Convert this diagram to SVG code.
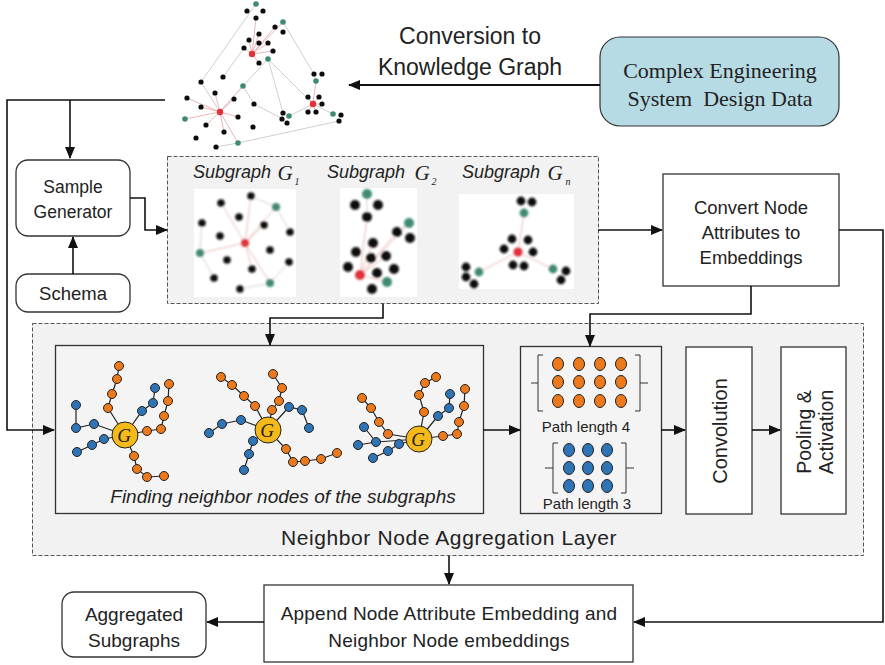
<svg xmlns="http://www.w3.org/2000/svg" width="885" height="665" viewBox="0 0 885 665">
  <style>
    .t { font-family: "Liberation Sans", Arial, sans-serif; fill: #222; text-anchor: middle; }
    .serif { font-family: "Liberation Serif", "Times New Roman", serif; fill: #222; text-anchor: middle; }
    .it { font-style: italic; }
    .box { fill: #fff; stroke: #333; stroke-width: 1.3; }
    .dash { fill: #f2f2f2; stroke: #555; stroke-width: 1; stroke-dasharray: 4 2; }
    .conn { fill: none; stroke: #111; stroke-width: 1.6; }
    .kge { stroke: #cfcfcf; stroke-width: 1; fill: none; }
    .kgp { stroke: #e9b8b8; stroke-width: 1; fill: none; }
    .blk { fill: #111; }
    .tea { fill: #3f8a74; }
    .red { fill: #e0303a; }
    .ne { stroke: #222; stroke-width: 1.2; fill: none; }
    .o { fill: #ec7a1c; stroke: #222; stroke-width: 1; }
    .b { fill: #2f74b5; stroke: #222; stroke-width: 1; }
    .g { fill: #f6b91a; stroke: #222; stroke-width: 1; }
  </style>
  <defs>
    <marker id="arr" markerUnits="userSpaceOnUse" markerWidth="12" markerHeight="10" refX="11" refY="5" orient="auto">
      <path d="M0,0 L12,5 L0,10 Z" fill="#111"/>
    </marker>
    <filter id="soft" x="-10%" y="-10%" width="120%" height="120%">
      <feGaussianBlur stdDeviation="0.9"/>
    </filter>
    <filter id="soft2" x="-10%" y="-10%" width="120%" height="120%">
      <feGaussianBlur stdDeviation="0.5"/>
    </filter>
  </defs>

  <rect width="885" height="665" fill="#fff"/>

  <!-- knowledge graph -->
  <g id="knowledge-graph" filter="url(#soft2)">
    <g class="kge">
      <path d="M256,4 L201,82 L220,112"/>
      <path d="M283,22 L314,74 L316,81"/>
      <path d="M244,48 L223,77"/>
      <path d="M268,59 L243,86 L254,104 L283,119"/>
      <path d="M268,59 L283,113"/>
      <path d="M268,59 L313,104"/>
      <path d="M339,121 L238,143 L216,147"/>
      <path d="M243,86 L220,112"/>
      <path d="M313,104 L289,116"/>
      <path d="M313,104 L333,114"/>
    </g>
    <g class="kgp">
      <path d="M252,54 L256,18 M252,54 L283,22 M252,54 L259,34 M252,54 L249,40 M252,54 L268,43 M252,54 L273,51 M252,54 L259,63 M252,54 L244,48 M252,54 L275,27"/>
      <path d="M220,112 L185,119 M220,112 L238,143 M220,112 L187,98 M220,112 L201,107 M220,112 L243,86 M220,112 L215,93 M220,112 L234,99 M220,112 L206,125 M220,112 L224,132 M220,112 L238,117"/>
      <path d="M313,104 L308,97 M313,104 L319,97 M313,104 L308,112 M313,104 L316,112 M313,104 L322,104 M313,104 L316,81"/>
    </g>
    <g class="tea">
      <circle cx="256" cy="4" r="2.8"/><circle cx="283" cy="22" r="2.8"/><circle cx="268" cy="59" r="2.8"/>
      <circle cx="243" cy="86" r="2.8"/><circle cx="316" cy="81" r="2.8"/><circle cx="289" cy="116" r="2.8"/>
      <circle cx="333" cy="114" r="2.8"/><circle cx="185" cy="119" r="2.8"/><circle cx="238" cy="143" r="2.8"/>
    </g>
    <g class="red">
      <circle cx="252" cy="54" r="3.2"/><circle cx="220" cy="112" r="3.2"/><circle cx="313" cy="104" r="3.2"/>
    </g>
    <g class="blk">
      <circle cx="247" cy="11" r="2.6"/><circle cx="263" cy="11" r="2.6"/><circle cx="256" cy="18" r="2.6"/>
      <circle cx="275" cy="27" r="2.6"/><circle cx="283" cy="32" r="2.6"/><circle cx="259" cy="34" r="2.6"/>
      <circle cx="249" cy="40" r="2.6"/><circle cx="259" cy="43" r="2.6"/><circle cx="268" cy="43" r="2.6"/>
      <circle cx="244" cy="48" r="2.6"/><circle cx="273" cy="51" r="2.6"/><circle cx="259" cy="63" r="2.6"/>
      <circle cx="223" cy="77" r="2.6"/><circle cx="201" cy="82" r="2.6"/><circle cx="314" cy="74" r="2.6"/>
      <circle cx="322" cy="74" r="2.6"/><circle cx="215" cy="93" r="2.6"/><circle cx="234" cy="99" r="2.6"/>
      <circle cx="187" cy="98" r="2.6"/><circle cx="201" cy="107" r="2.6"/><circle cx="254" cy="104" r="2.6"/>
      <circle cx="308" cy="97" r="2.6"/><circle cx="319" cy="97" r="2.6"/><circle cx="308" cy="112" r="2.6"/>
      <circle cx="316" cy="112" r="2.6"/><circle cx="322" cy="104" r="2.6"/><circle cx="283" cy="113" r="2.6"/>
      <circle cx="282" cy="119" r="2.6"/><circle cx="287" cy="123" r="2.6"/><circle cx="238" cy="117" r="2.6"/>
      <circle cx="206" cy="125" r="2.6"/><circle cx="224" cy="132" r="2.6"/><circle cx="253" cy="127" r="2.6"/>
      <circle cx="196" cy="138" r="2.6"/><circle cx="216" cy="147" r="2.6"/><circle cx="341" cy="115" r="2.6"/>
      <circle cx="339" cy="121" r="2.6"/>
    </g>
  </g>

  <text class="t" x="470" y="44" font-size="23">Conversion to</text>
  <text class="t" x="470" y="75" font-size="23">Knowledge Graph</text>

  <!-- source data -->
  <g id="design-data">
    <rect x="600" y="37" width="239" height="89" rx="20" fill="#b7dbe5" stroke="#333" stroke-width="1.2"/>
    <text class="serif" x="720" y="78" font-size="22">Complex Engineering</text>
    <text class="serif" x="720" y="106" font-size="22" style="white-space:pre">System  Design Data</text>
  </g>

  <!-- sample generation -->
  <g id="sample-generator">
    <rect class="box" x="16" y="160" width="114" height="76" rx="12"/>
    <text class="t" x="73" y="193" font-size="17.5">Sample</text>
    <text class="t" x="73" y="218" font-size="17.5">Generator</text>
  </g>
  <g id="schema">
    <rect class="box" x="16" y="274" width="114" height="38" rx="12"/>
    <text class="t" x="73" y="300" font-size="18.5">Schema</text>
  </g>

  <!-- subgraphs panel -->
  <g id="subgraphs">
    <rect class="dash" x="167.5" y="156.5" width="431" height="147"/>
    <text class="t it" x="232" y="178" font-size="18">Subgraph</text>
    <text class="serif it" x="285" y="180" font-size="21">G</text>
    <text class="serif it" x="297" y="185" font-size="10">1</text>
    <text class="t it" x="366" y="178" font-size="18">Subgraph</text>
    <text class="serif it" x="422" y="180" font-size="21">G</text>
    <text class="serif it" x="434" y="185" font-size="10">2</text>
    <text class="t it" x="501" y="178" font-size="18">Subgraph</text>
    <text class="serif it" x="555" y="180" font-size="21">G</text>
    <text class="serif it" x="568" y="185" font-size="10">n</text>

    <rect x="194" y="189" width="102" height="108" fill="#fff"/>
    <rect x="340" y="188" width="77" height="109" fill="#fff"/>
    <rect x="459" y="194" width="115" height="95" fill="#fff"/>

    <g id="subgraph-1" filter="url(#soft)">
      <g class="kgp" stroke-width="1.2">
        <path d="M245,243 L221,203 M245,243 L251,196 M245,243 L276,207 M245,243 L200,253 M245,243 L270,283 M245,243 L252,269 M245,243 L264,225"/>
      </g>
      <g class="kge" stroke-width="1.2">
        <path d="M251,196 L276,207 L290,232 M200,253 L202,223 M200,253 L214,278 M270,283 L240,289 M289,262 L270,283"/>
      </g>
      <circle class="red" cx="245" cy="243" r="4"/>
      <g class="tea"><circle cx="276" cy="207" r="4"/><circle cx="200" cy="253" r="4"/><circle cx="270" cy="283" r="4"/></g>
      <g class="blk">
        <circle cx="221" cy="203" r="3.8"/><circle cx="251" cy="196" r="3.8"/><circle cx="239" cy="217" r="3.8"/>
        <circle cx="202" cy="223" r="3.8"/><circle cx="220" cy="236" r="3.8"/><circle cx="264" cy="225" r="3.8"/>
        <circle cx="290" cy="232" r="3.8"/><circle cx="270" cy="250" r="3.8"/><circle cx="227" cy="260" r="3.8"/>
        <circle cx="252" cy="269" r="3.8"/><circle cx="289" cy="262" r="3.8"/><circle cx="214" cy="278" r="3.8"/>
        <circle cx="240" cy="289" r="3.8"/>
      </g>
    </g>

    <g id="subgraph-2" filter="url(#soft)">
      <g class="kgp" stroke-width="1.3">
        <path d="M360,275 L367,217 M360,275 L397,232 M360,275 L409,223 M360,275 L373,243 M360,275 L386,256 M360,275 L387,282"/>
      </g>
      <g class="kge" stroke-width="1.2"><path d="M367,194 L367,217 M409,223 L397,232"/></g>
      <g class="tea"><circle cx="367" cy="194" r="5"/><circle cx="409" cy="223" r="5"/><circle cx="387" cy="282" r="5"/></g>
      <circle class="red" cx="360" cy="275" r="5"/>
      <g class="blk">
        <circle cx="355" cy="205" r="5"/><circle cx="378" cy="205" r="5"/><circle cx="367" cy="217" r="5"/>
        <circle cx="373" cy="243" r="5"/><circle cx="356" cy="252" r="5"/><circle cx="371" cy="258" r="5"/>
        <circle cx="386" cy="256" r="5"/><circle cx="348" cy="267" r="5"/><circle cx="377" cy="273" r="5"/>
        <circle cx="394" cy="269" r="5"/><circle cx="372" cy="289" r="5"/><circle cx="397" cy="232" r="5"/>
        <circle cx="410" cy="238" r="5"/>
      </g>
    </g>

    <g id="subgraph-n" filter="url(#soft)">
      <g class="kgp" stroke-width="1.3"><path d="M518,252 L524,213 M518,252 L479,272 M518,252 L553,269"/></g>
      <circle class="red" cx="518" cy="252" r="4.6"/>
      <g class="tea"><circle cx="524" cy="213" r="4.4"/><circle cx="479" cy="272" r="4.4"/><circle cx="553" cy="269" r="4.4"/></g>
      <g class="blk">
        <circle cx="521" cy="201" r="4.4"/><circle cx="532" cy="202" r="4.4"/><circle cx="512" cy="239" r="4.4"/>
        <circle cx="528" cy="240" r="4.4"/><circle cx="504" cy="249" r="4.4"/><circle cx="533" cy="252" r="4.4"/>
        <circle cx="513" cy="265" r="4.4"/><circle cx="524" cy="266" r="4.4"/><circle cx="466" cy="267" r="4.4"/>
        <circle cx="466" cy="277" r="4.4"/><circle cx="474" cy="284" r="4.4"/><circle cx="566" cy="271" r="4.4"/>
        <circle cx="561" cy="280" r="4.4"/>
      </g>
    </g>
  </g>

  <!-- embedding conversion -->
  <g id="convert-embeddings">
    <rect class="box" x="663" y="174" width="176" height="112"/>
    <text class="t" x="751" y="214" font-size="18.5">Convert Node</text>
    <text class="t" x="751" y="239" font-size="18.5">Attributes to</text>
    <text class="t" x="751" y="264" font-size="18.5">Embeddings</text>
  </g>

  <!-- aggregation layer -->
  <g id="aggregation-layer">
    <rect class="dash" x="32.5" y="323.5" width="831" height="232"/>
    <text class="t" x="449" y="545" font-size="21" letter-spacing="0.6">Neighbor Node Aggregation Layer</text>
  </g>

  <g id="neighbor-finding">
    <rect x="55.5" y="345.5" width="428" height="168" fill="#f4f4f4" stroke="#333" stroke-width="1.3"/>
    <text class="t it" x="283" y="503" font-size="19">Finding neighbor nodes of the subgraphs</text>

    <!-- first neighborhood -->
    <g class="ne">
      <path d="M125,435 L108,408 L112,394 L117,379 L119,366"/>
      <path d="M125,435 L142,411 L153,403 L155,388"/>
      <path d="M125,435 L147,431 L161,429 L164,416 L168,401 L169,384"/>
      <path d="M125,435 L94,424 L76,428 L76,405"/>
      <path d="M125,435 L104,439 L92,445 L77,452"/>
      <path d="M125,435 L134,456 L137,469 L147,477 L164,476"/>
    </g>
    <g>
      <circle class="o" cx="108" cy="408" r="4.5"/><circle class="o" cx="112" cy="394" r="4.5"/><circle class="o" cx="117" cy="379" r="4.5"/><circle class="o" cx="119" cy="366" r="4.5"/>
      <circle class="b" cx="142" cy="411" r="4.5"/><circle class="b" cx="153" cy="403" r="4.5"/><circle class="b" cx="155" cy="388" r="4.5"/>
      <circle class="o" cx="147" cy="431" r="4.5"/><circle class="o" cx="161" cy="429" r="4.5"/><circle class="o" cx="164" cy="416" r="4.5"/><circle class="o" cx="168" cy="401" r="4.5"/><circle class="o" cx="169" cy="384" r="4.5"/>
      <circle class="b" cx="94" cy="424" r="4.5"/><circle class="b" cx="76" cy="428" r="4.5"/><circle class="b" cx="76" cy="405" r="4.5"/>
      <circle class="b" cx="104" cy="439" r="4.5"/><circle class="b" cx="92" cy="445" r="4.5"/><circle class="b" cx="77" cy="452" r="4.5"/>
      <circle class="o" cx="134" cy="456" r="4.5"/><circle class="o" cx="137" cy="469" r="4.5"/><circle class="o" cx="147" cy="477" r="4.5"/><circle class="o" cx="164" cy="476" r="4.5"/>
      <circle class="g" cx="125" cy="435" r="13"/>
      <text class="serif it" x="124" y="442" font-size="19">G</text>
    </g>

    <!-- second neighborhood -->
    <g class="ne">
      <path d="M268,430 L272,410 L279,401 L282,388 L273,374"/>
      <path d="M268,430 L255,406 L244,396 L232,385 L221,377"/>
      <path d="M268,430 L241,420 L222,424 L209,433"/>
      <path d="M268,430 L253,441 L249,454 L244,470"/>
      <path d="M268,430 L289,407 L302,410 L309,428"/>
      <path d="M268,430 L286,449 L293,462 L305,461 L321,459 L337,453"/>
    </g>
    <g>
      <circle class="o" cx="272" cy="410" r="4.5"/><circle class="o" cx="279" cy="401" r="4.5"/><circle class="o" cx="282" cy="388" r="4.5"/><circle class="o" cx="273" cy="374" r="4.5"/>
      <circle class="o" cx="255" cy="406" r="4.5"/><circle class="o" cx="244" cy="396" r="4.5"/><circle class="o" cx="232" cy="385" r="4.5"/><circle class="o" cx="221" cy="377" r="4.5"/>
      <circle class="b" cx="241" cy="420" r="4.5"/><circle class="b" cx="222" cy="424" r="4.5"/><circle class="b" cx="209" cy="433" r="4.5"/>
      <circle class="b" cx="253" cy="441" r="4.5"/><circle class="b" cx="249" cy="454" r="4.5"/><circle class="b" cx="244" cy="470" r="4.5"/>
      <circle class="b" cx="289" cy="407" r="4.5"/><circle class="b" cx="302" cy="410" r="4.5"/><circle class="b" cx="309" cy="428" r="4.5"/>
      <circle class="o" cx="286" cy="449" r="4.5"/><circle class="o" cx="293" cy="462" r="4.5"/><circle class="o" cx="305" cy="461" r="4.5"/><circle class="o" cx="321" cy="459" r="4.5"/><circle class="o" cx="337" cy="453" r="4.5"/>
      <circle class="g" cx="268" cy="430" r="13"/>
      <text class="serif it" x="267" y="437" font-size="19">G</text>
    </g>

    <!-- third neighborhood -->
    <g class="ne">
      <path d="M419,439 L424,412 L419,395 L425,383 L436,377"/>
      <path d="M419,439 L438,416 L449,408 L450,394"/>
      <path d="M419,439 L443,436 L457,434 L459,422 L464,406 L465,389"/>
      <path d="M419,439 L388,434 L379,422 L371,408 L362,398"/>
      <path d="M419,439 L376,442 L364,427 M376,442 L358,445"/>
      <path d="M419,439 L399,444 L388,451 L373,458"/>
    </g>
    <g>
      <circle class="o" cx="424" cy="412" r="4.5"/><circle class="o" cx="419" cy="395" r="4.5"/><circle class="o" cx="425" cy="383" r="4.5"/><circle class="o" cx="436" cy="377" r="4.5"/>
      <circle class="b" cx="438" cy="416" r="4.5"/><circle class="b" cx="449" cy="408" r="4.5"/><circle class="b" cx="450" cy="394" r="4.5"/>
      <circle class="o" cx="443" cy="436" r="4.5"/><circle class="o" cx="457" cy="434" r="4.5"/><circle class="o" cx="459" cy="422" r="4.5"/><circle class="o" cx="464" cy="406" r="4.5"/><circle class="o" cx="465" cy="389" r="4.5"/>
      <circle class="o" cx="388" cy="434" r="4.5"/><circle class="o" cx="379" cy="422" r="4.5"/><circle class="o" cx="371" cy="408" r="4.5"/><circle class="o" cx="362" cy="398" r="4.5"/>
      <circle class="b" cx="376" cy="442" r="4.5"/><circle class="b" cx="364" cy="427" r="4.5"/><circle class="b" cx="358" cy="445" r="4.5"/>
      <circle class="b" cx="399" cy="444" r="4.5"/><circle class="b" cx="388" cy="451" r="4.5"/><circle class="b" cx="373" cy="458" r="4.5"/>
      <circle class="g" cx="419" cy="439" r="13"/>
      <text class="serif it" x="418" y="446" font-size="19">G</text>
    </g>
  </g>

  <!-- path-length matrices -->
  <g id="path-matrices">
    <rect x="520.5" y="346.5" width="141" height="167" fill="#f4f4f4" stroke="#333" stroke-width="1.3"/>
    <g class="o">
      <ellipse cx="558" cy="364" rx="5.5" ry="6.5"/><ellipse cx="579" cy="364" rx="5.5" ry="6.5"/><ellipse cx="600" cy="364" rx="5.5" ry="6.5"/><ellipse cx="621" cy="364" rx="5.5" ry="6.5"/>
      <ellipse cx="558" cy="382" rx="5.5" ry="6.5"/><ellipse cx="579" cy="382" rx="5.5" ry="6.5"/><ellipse cx="600" cy="382" rx="5.5" ry="6.5"/><ellipse cx="621" cy="382" rx="5.5" ry="6.5"/>
      <ellipse cx="558" cy="401" rx="5.5" ry="6.5"/><ellipse cx="579" cy="401" rx="5.5" ry="6.5"/><ellipse cx="600" cy="401" rx="5.5" ry="6.5"/><ellipse cx="621" cy="401" rx="5.5" ry="6.5"/>
    </g>
    <path d="M543,355 H538 V383 H531 M538,383 V411 H543" fill="none" stroke="#333" stroke-width="1"/>
    <path d="M635,355 H640 V383 H648 M640,383 V411 H635" fill="none" stroke="#333" stroke-width="1"/>
    <text class="t" x="586" y="432" font-size="15">Path length 4</text>
    <g class="b">
      <ellipse cx="569" cy="450" rx="5.5" ry="6.5"/><ellipse cx="588" cy="450" rx="5.5" ry="6.5"/><ellipse cx="607" cy="450" rx="5.5" ry="6.5"/>
      <ellipse cx="569" cy="468" rx="5.5" ry="6.5"/><ellipse cx="588" cy="468" rx="5.5" ry="6.5"/><ellipse cx="607" cy="468" rx="5.5" ry="6.5"/>
      <ellipse cx="569" cy="486" rx="5.5" ry="6.5"/><ellipse cx="588" cy="486" rx="5.5" ry="6.5"/><ellipse cx="607" cy="486" rx="5.5" ry="6.5"/>
    </g>
    <path d="M558,443 H553 V468 H545 M553,468 V493 H558" fill="none" stroke="#333" stroke-width="1"/>
    <path d="M621,443 H626 V468 H634 M626,468 V493 H621" fill="none" stroke="#333" stroke-width="1"/>
    <text class="t" x="587" y="509" font-size="15">Path length 3</text>
  </g>

  <g id="convolution">
    <rect class="box" x="686" y="347" width="66" height="167"/>
    <text class="t" transform="translate(727,431) rotate(-90)" font-size="20">Convolution</text>
  </g>
  <g id="pooling-activation">
    <rect class="box" x="781" y="347" width="65" height="167"/>
    <text class="t" transform="translate(811,432) rotate(-90)" font-size="19.5">Pooling &amp;</text>
    <text class="t" transform="translate(833,432) rotate(-90)" font-size="19.5">Activation</text>
  </g>

  <!-- output stage -->
  <g id="append-embeddings">
    <rect class="box" x="264" y="585" width="369" height="77"/>
    <text class="t" x="449" y="620" font-size="19" letter-spacing="0.2">Append Node Attribute Embedding and</text>
    <text class="t" x="449" y="647" font-size="19" letter-spacing="0.2">Neighbor Node embeddings</text>
  </g>
  <g id="aggregated-subgraphs">
    <rect class="box" x="62" y="592" width="144" height="65" rx="12"/>
    <text class="t" x="134" y="621" font-size="19">Aggregated</text>
    <text class="t" x="134" y="647" font-size="19">Subgraphs</text>
  </g>

  <!-- connectors -->
  <g id="connectors" class="conn">
    <path d="M600,85 H349" stroke-width="2" marker-end="url(#arr)"/>
    <path d="M165,100 H7 V430 H54" marker-end="url(#arr)"/>
    <path d="M70,100 V158" marker-end="url(#arr)"/>
    <path d="M73,274 V237" marker-end="url(#arr)"/>
    <path d="M130,198 H145 V230 H167" marker-end="url(#arr)"/>
    <path d="M383,304 V318 H270 V345" marker-end="url(#arr)"/>
    <path d="M598,230 H662" marker-end="url(#arr)"/>
    <path d="M751,286 V314 H590 V346" marker-end="url(#arr)"/>
    <path d="M839,230 H883 V622 H634" marker-end="url(#arr)"/>
    <path d="M483,430 H520" marker-end="url(#arr)"/>
    <path d="M661,430 H685" marker-end="url(#arr)"/>
    <path d="M752,430 H780" marker-end="url(#arr)"/>
    <path d="M449,556 V584" marker-end="url(#arr)"/>
    <path d="M264,622 H207" marker-end="url(#arr)"/>
  </g>
</svg>
